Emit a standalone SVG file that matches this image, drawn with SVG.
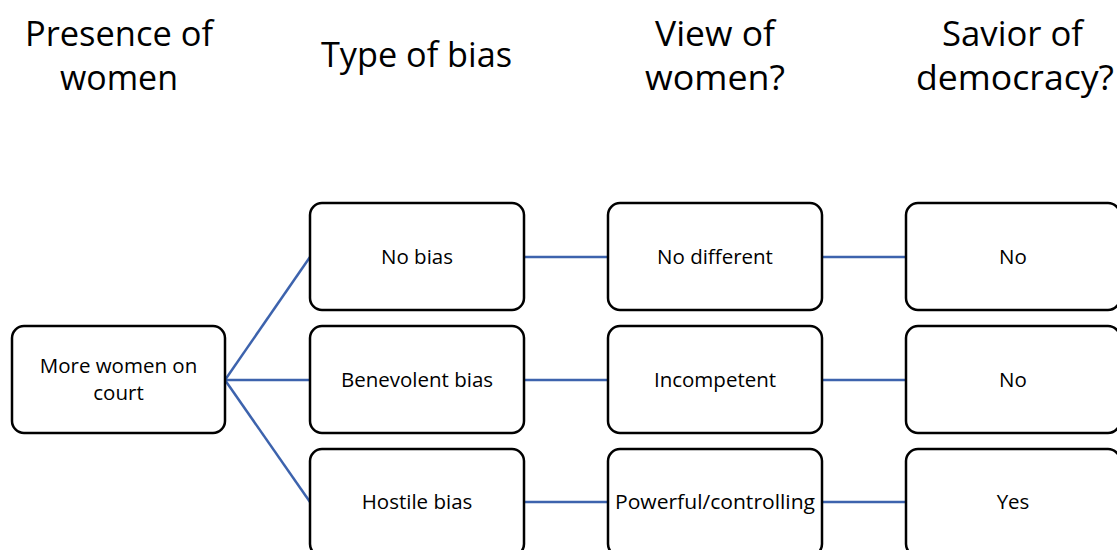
<svg xmlns="http://www.w3.org/2000/svg" width="1117" height="550" viewBox="0 0 1117 550">
<style>
.box{fill:#fff;stroke:#000;stroke-width:2.5}
.t{font-family:"Open Sans","Liberation Sans",sans-serif;font-size:20.5px;fill:#000;text-anchor:middle}
.h{font-family:"Open Sans","Liberation Sans",sans-serif;font-size:34px;fill:#000;text-anchor:middle}
.c{stroke:#3d63ad;stroke-width:2.5;fill:none}
</style>
<rect width="1117" height="550" fill="#fff"/>
<g id="headings">
<text class="h" x="119" y="46" textLength="188" lengthAdjust="spacingAndGlyphs">Presence of</text>
<text class="h" x="119" y="90" textLength="118" lengthAdjust="spacingAndGlyphs">women</text>
<text class="h" x="416.5" y="67" textLength="191" lengthAdjust="spacingAndGlyphs">Type of bias</text>
<text class="h" x="715" y="46" textLength="120" lengthAdjust="spacingAndGlyphs">View of</text>
<text class="h" x="715" y="90" textLength="140" lengthAdjust="spacingAndGlyphs">women?</text>
<text class="h" x="1012.5" y="46" textLength="141" lengthAdjust="spacingAndGlyphs">Savior of</text>
<text class="h" x="1015" y="90" textLength="198" lengthAdjust="spacingAndGlyphs">democracy?</text>
</g>
<g id="connectors">
<line class="c" x1="225" y1="380" x2="310" y2="257"/>
<line class="c" x1="225" y1="380" x2="310" y2="380"/>
<line class="c" x1="225" y1="380" x2="310" y2="502"/>
<line class="c" x1="524" y1="257" x2="608" y2="257"/>
<line class="c" x1="524" y1="380" x2="608" y2="380"/>
<line class="c" x1="524" y1="502" x2="608" y2="502"/>
<line class="c" x1="822" y1="257" x2="906" y2="257"/>
<line class="c" x1="822" y1="380" x2="906" y2="380"/>
<line class="c" x1="822" y1="502" x2="906" y2="502"/>
</g>
<g id="n-more"><rect class="box" x="12" y="326" width="213" height="107" rx="12"/><text class="t" x="118.5" y="373">More women on</text><text class="t" x="118.5" y="400">court</text></g>
<g id="n-nobias"><rect class="box" x="310" y="203" width="214" height="107" rx="12"/><text class="t" x="417" y="264">No bias</text></g>
<g id="n-benevolent"><rect class="box" x="310" y="326" width="214" height="107" rx="12"/><text class="t" x="417" y="387">Benevolent bias</text></g>
<g id="n-hostile"><rect class="box" x="310" y="449" width="214" height="107" rx="12"/><text class="t" x="417" y="509">Hostile bias</text></g>
<g id="n-nodiff"><rect class="box" x="608" y="203" width="214" height="107" rx="12"/><text class="t" x="715" y="264">No different</text></g>
<g id="n-incomp"><rect class="box" x="608" y="326" width="214" height="107" rx="12"/><text class="t" x="715" y="387">Incompetent</text></g>
<g id="n-powerful"><rect class="box" x="608" y="449" width="214" height="107" rx="12"/><text class="t" x="715" y="509" textLength="200" lengthAdjust="spacingAndGlyphs">Powerful/controlling</text></g>
<g id="n-no1"><rect class="box" x="906" y="203" width="214" height="107" rx="12"/><text class="t" x="1013" y="264">No</text></g>
<g id="n-no2"><rect class="box" x="906" y="326" width="214" height="107" rx="12"/><text class="t" x="1013" y="387">No</text></g>
<g id="n-yes"><rect class="box" x="906" y="449" width="214" height="107" rx="12"/><text class="t" x="1013" y="509">Yes</text></g>
</svg>
